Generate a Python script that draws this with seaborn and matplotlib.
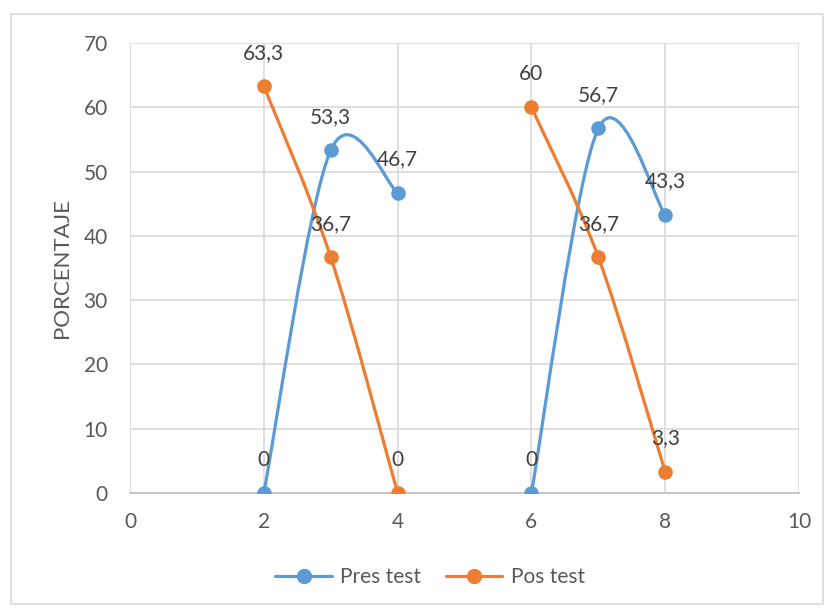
import numpy as np
import pandas as pd
import matplotlib
matplotlib.use("Agg")
import matplotlib.pyplot as plt
from matplotlib.path import Path
from matplotlib.patches import PathPatch, Rectangle
from matplotlib.lines import Line2D
import seaborn as sns

# ---- data ----
pres_x = [[2, 3, 4], [6, 7, 8]]
pres_y = [[0, 53.3, 46.7], [0, 56.7, 43.3]]
pos_x = [[2, 3, 4], [6, 7, 8]]
pos_y = [[63.3, 36.7, 0], [60, 36.7, 3.3]]
series_names = ["Pres test", "Pos test"]
x_ticks = [0, 2, 4, 6, 8, 10]
y_ticks = [0, 10, 20, 30, 40, 50, 60, 70]
y_label = "PORCENTAJE"

BLUE = "#5B9BD5"
ORANGE = "#ED7D31"
GRID = "#D9D9D9"
TXT = "#595959"
LBL = "#404040"
FS = 15

sns.set_theme(style="white")
plt.rcParams["font.family"] = ["Lato", "DejaVu Sans"]

fig = plt.figure(figsize=(8.27, 6.08), dpi=100)
ax = fig.add_axes([130 / 827, 1 - 493 / 608, (799 - 130) / 827, (493 - 43) / 608])

# chart border
fig.add_artist(Rectangle((11 / 827, 1 - 604 / 608), (823 - 11) / 827, (604 - 14) / 608,
                         transform=fig.transFigure, fill=False, edgecolor=GRID, lw=1.2))


def smooth_path(xs, ys):
    pts = np.column_stack([xs, ys]).astype(float)
    n = len(pts)
    verts = [pts[0]]
    codes = [Path.MOVETO]
    for i in range(n - 1):
        p0 = pts[i - 1] if i > 0 else pts[i]
        p1 = pts[i]
        p2 = pts[i + 1]
        p3 = pts[i + 2] if i + 2 < n else pts[i + 1]
        c1 = p1 + (p2 - p0) / 6.0
        c2 = p2 - (p3 - p1) / 6.0
        verts += [c1, c2, p2]
        codes += [Path.CURVE4] * 3
    return Path(verts, codes)


def draw_series(xs_list, ys_list, color, name):
    for xs, ys in zip(xs_list, ys_list):
        patch = PathPatch(smooth_path(xs, ys), facecolor="none", edgecolor=color,
                          lw=2.3, capstyle="round", joinstyle="round", zorder=3)
        ax.add_patch(patch)
    df = pd.DataFrame({"x": sum(xs_list, []), "y": sum(ys_list, [])})
    sns.scatterplot(data=df, x="x", y="y", color=color, s=110, edgecolor=color,
                    linewidth=0, zorder=4, ax=ax, legend=False)
    for x, y in zip(df["x"], df["y"]):
        txt = f"{y:g}".replace(".", ",")
        ax.annotate(txt, (x, y), xytext=(0, 24), textcoords="offset points",
                    ha="center", va="center", fontsize=FS, color=LBL, zorder=5)


draw_series(pres_x, pres_y, BLUE, series_names[0])
draw_series(pos_x, pos_y, ORANGE, series_names[1])

ax.set_xlim(0, 10)
ax.set_ylim(0, 70)
ax.set_xticks(x_ticks)
ax.set_yticks(y_ticks)
ax.set_xticklabels([str(v) for v in x_ticks])
ax.set_yticklabels([str(v) for v in y_ticks])
ax.grid(True, color=GRID, lw=1.2, zorder=0)
ax.set_axisbelow(True)
for s in ["top", "right", "left"]:
    ax.spines[s].set_visible(False)
ax.spines["bottom"].set_color("#BFBFBF")
ax.spines["bottom"].set_linewidth(1.2)
ax.tick_params(axis="both", length=0, labelsize=FS, labelcolor=TXT)
ax.tick_params(axis="x", pad=14)
ax.tick_params(axis="y", pad=16)
ax.set_xlabel("")
ax.set_ylabel(y_label, fontsize=FS + 1, color=TXT, labelpad=8)

handles = [Line2D([0], [0], color=BLUE, lw=2.3, marker="o", markersize=10),
           Line2D([0], [0], color=ORANGE, lw=2.3, marker="o", markersize=10)]
fig.legend(handles, series_names, loc="center", bbox_to_anchor=(0.52, 1 - 577 / 608),
           ncol=2, frameon=False, fontsize=FS, labelcolor=TXT, handlelength=2.7,
           columnspacing=1.2, handletextpad=0.4)

fig.savefig("out.png", dpi=100)
